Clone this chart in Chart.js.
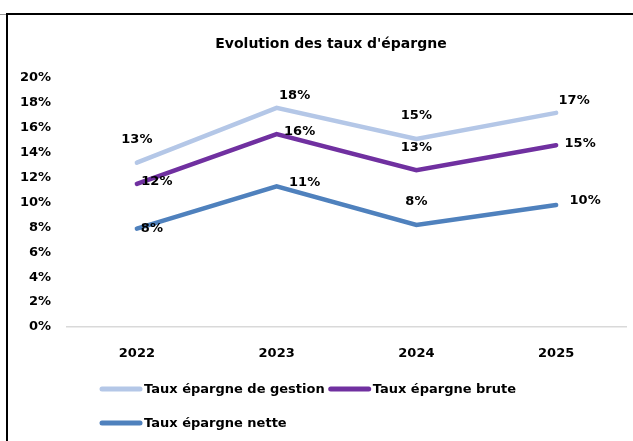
<!DOCTYPE html>
<html>
<head>
<meta charset="utf-8">
<script src="https://cdn.jsdelivr.net/npm/chart.js@4"></script>
<style>
  body { margin: 0; background: #fff; }
  #wrap { position: relative; width: 633px; height: 441px; }
  #frame { position: absolute; left: 6px; top: 13px; right: 0; bottom: 0;
           border-left: 2px solid #000; border-top: 2px solid #000; pointer-events: none; }
  #nub { position: absolute; left: 0; top: 14px; width: 6px; height: 1px; background: #999; }
</style>
</head>
<body>
<div id="wrap">
  <canvas id="myLineChart" width="633" height="441"></canvas>
  <div id="frame"></div>
  <div id="nub"></div>
</div>
<script>
const annees = ['2022', '2023', '2024', '2025'];
const tauxGestion = [13.2, 17.6, 15.1, 17.2];
const tauxBrute = [11.5, 15.5, 12.6, 14.6];
const tauxNette = [7.9, 11.3, 8.2, 9.8];
const titre = "Evolution des taux d'épargne";
const font = 'DejaVu Sans';

// titre, etiquettes de donnees et legende dessines a la facon Excel
const habillage = {
  id: 'habillage',
  afterDatasetsDraw(chart) {
    const ctx = chart.ctx;
    ctx.save();
    ctx.fillStyle = '#000';
    ctx.textAlign = 'center';
    ctx.textBaseline = 'middle';
    ctx.font = 'bold 14px ' + font;
    ctx.fillText(titre, 331, 44);
    ctx.font = 'bold 13px ' + font;
    chart.data.datasets.forEach((ds, i) => {
      chart.getDatasetMeta(i).data.forEach((pt, j) => {
        const off = ds.labelOffsets[j];
        ctx.fillText(Math.round(ds.data[j]) + '%', pt.x + off[0], pt.y + off[1]);
      });
    });
    ctx.restore();
  },
  afterDraw(chart) {
    const ctx = chart.ctx;
    ctx.save();
    ctx.font = 'bold 13px ' + font;
    ctx.textBaseline = 'middle';
    ctx.textAlign = 'left';
    let x = 100, y = 389;
    chart.data.datasets.forEach(ds => {
      const w = 45 + ctx.measureText(ds.label).width;
      if (x > 100 && x + w > 540) { x = 100; y += 34; }
      ctx.strokeStyle = ds.borderColor;
      ctx.lineWidth = 5;
      ctx.lineCap = 'round';
      ctx.beginPath();
      ctx.moveTo(x + 2, y);
      ctx.lineTo(x + 40, y);
      ctx.stroke();
      ctx.fillStyle = '#000';
      ctx.fillText(ds.label, x + 44, y + 1);
      x += w + 3;
    });
    ctx.restore();
  }
};

function createChart() {
  const ctx = document.getElementById('myLineChart').getContext('2d');
  new Chart(ctx, {
    type: 'line',
    data: {
      labels: annees,
      datasets: [{
        label: 'Taux épargne de gestion',
        data: tauxGestion,
        borderColor: '#B4C7E7',
        labelOffsets: [[0, -23], [18, -12], [0, -23], [18, -12]]
      }, {
        label: 'Taux épargne brute',
        data: tauxBrute,
        borderColor: '#7030A0',
        labelOffsets: [[20, -2], [23, -2], [0, -23], [24, -2]]
      }, {
        label: 'Taux épargne nette',
        data: tauxNette,
        borderColor: '#4F81BD',
        labelOffsets: [[15, 0], [28, -4], [0, -23], [29, -4]]
      }]
    },
    options: {
      responsive: false,
      animation: false,
      elements: {
        line: { borderWidth: 4.5, tension: 0, borderCapStyle: 'round', borderJoinStyle: 'miter' },
        point: { radius: 0, hoverRadius: 0 }
      },
      layout: { padding: { left: 16, right: 7, top: 78, bottom: 74 } },
      scales: {
        x: {
          offset: true,
          grid: { display: false, drawTicks: false },
          border: { display: true, color: '#D9D9D9', width: 1.5 },
          ticks: { color: '#000', padding: 19, font: { family: font, size: 13, weight: 'bold' } },
          afterFit: s => { s.height = 40; }
        },
        y: {
          min: 0,
          max: 20,
          grid: { display: false, drawTicks: false },
          border: { display: false },
          ticks: {
            stepSize: 2,
            color: '#000',
            padding: 16,
            font: { family: font, size: 13, weight: 'bold' },
            callback: v => v + '%'
          },
          afterFit: s => { s.width = 51; }
        }
      },
      plugins: {
        legend: { display: false },
        tooltip: { enabled: false },
        title: { display: false }
      }
    },
    plugins: [habillage]
  });
}

window.onload = createChart;
</script>
</body>
</html>
